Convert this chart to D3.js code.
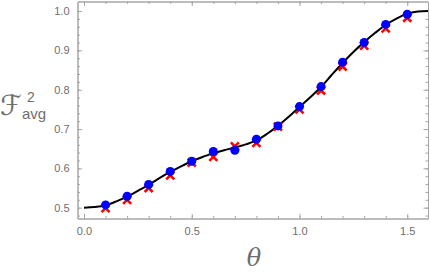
<!DOCTYPE html>
<html>
<head>
<meta charset="utf-8">
<script src="https://cdn.jsdelivr.net/npm/d3@7"></script>
<style>
  body { margin: 0; background: #fff; }
  svg { display: block; font-family: "Liberation Sans", Arial, sans-serif; }
</style>
</head>
<body>
<div id="chart"></div>
<script>
// curve samples
const curveTheta = [0, 0.05, 0.1, 0.15, 0.2, 0.25, 0.3, 0.35, 0.4, 0.45, 0.5, 0.55, 0.6, 0.65, 0.7, 0.75, 0.8, 0.85, 0.9, 0.95, 1.0, 1.05, 1.1, 1.15, 1.2, 1.25, 1.3, 1.35, 1.4, 1.45, 1.5, 1.55, 1.6];
const curveValue = [0.5, 0.5015, 0.506, 0.516, 0.528, 0.543, 0.558, 0.575, 0.591, 0.605, 0.618, 0.629, 0.638, 0.646, 0.653, 0.661, 0.671, 0.688, 0.708, 0.731, 0.756, 0.781, 0.807, 0.838, 0.868, 0.896, 0.921, 0.944, 0.965, 0.981, 0.993, 0.999, 1.0];

// sampled points
const pointTheta = [0.1, 0.2, 0.3, 0.4, 0.5, 0.6, 0.7, 0.8, 0.9, 1.0, 1.1, 1.2, 1.3, 1.4, 1.5];
const blueValue = [0.507, 0.529, 0.559, 0.592, 0.618, 0.643, 0.646, 0.674, 0.708, 0.757, 0.808, 0.870, 0.920, 0.966, 0.992];
const redValue = [0.499, 0.520, 0.550, 0.582, 0.615, 0.629, 0.656, 0.665, 0.706, 0.750, 0.798, 0.859, 0.912, 0.956, 0.983];

const xMajor = [0, 0.5, 1.0, 1.5];
const yMajor = [0.5, 0.6, 0.7, 0.8, 0.9, 1.0];

const W = 430, H = 273;
const frame = { left: 77.5, right: 428, top: 1.5, bottom: 218.5 };

const svg = d3.select("#chart").append("svg")
  .attr("width", W).attr("height", H);

const x = d3.scaleLinear().domain([-0.0302, 1.5963]).range([frame.left, frame.right]);
const y = d3.scaleLinear().domain([0.4725, 1.0243]).range([frame.bottom, frame.top]);

const frameColor = "#a6a6a6";
const labelColor = "#6e6e6e";

svg.append("defs").append("clipPath").attr("id", "clip")
  .append("rect")
  .attr("x", frame.left).attr("y", frame.top)
  .attr("width", frame.right - frame.left).attr("height", frame.bottom - frame.top);

// frame axes, ticks pointing inward
const xMinor = d3.range(0, 16).map((i) => i / 10);
const yMinor = d3.range(0, 27).map((i) => 0.48 + i * 0.02).filter((v) => v < 1.024);

function axisStyle(g) {
  g.select(".domain").attr("stroke", frameColor);
  g.selectAll(".tick line").attr("stroke", frameColor);
  g.selectAll(".tick text").attr("fill", labelColor).style("font-size", "11px");
}

// minor ticks
svg.append("g").attr("transform", `translate(0,${frame.bottom})`)
  .call(d3.axisBottom(x).tickValues(xMinor).tickSize(-2.5).tickSizeOuter(0).tickFormat(""))
  .call(axisStyle);
svg.append("g").attr("transform", `translate(0,${frame.top})`)
  .call(d3.axisTop(x).tickValues(xMinor).tickSize(-2.5).tickSizeOuter(0).tickFormat(""))
  .call(axisStyle);
svg.append("g").attr("transform", `translate(${frame.left},0)`)
  .call(d3.axisLeft(y).tickValues(yMinor).tickSize(-2.5).tickSizeOuter(0).tickFormat(""))
  .call(axisStyle);
svg.append("g").attr("transform", `translate(${frame.right},0)`)
  .call(d3.axisRight(y).tickValues(yMinor).tickSize(-2.5).tickSizeOuter(0).tickFormat(""))
  .call(axisStyle);

// major ticks + labels
svg.append("g").attr("transform", `translate(0,${frame.bottom})`)
  .call(d3.axisBottom(x).tickValues(xMajor).tickSize(-4.5).tickSizeOuter(0)
    .tickPadding(9).tickFormat(d3.format(".1f")))
  .call(axisStyle);
svg.append("g").attr("transform", `translate(0,${frame.top})`)
  .call(d3.axisTop(x).tickValues(xMajor).tickSize(-4.5).tickSizeOuter(0).tickFormat(""))
  .call(axisStyle);
svg.append("g").attr("transform", `translate(${frame.left},0)`)
  .call(d3.axisLeft(y).tickValues(yMajor).tickSize(-4.5).tickSizeOuter(0)
    .tickPadding(8).tickFormat(d3.format(".1f")))
  .call(axisStyle);
svg.append("g").attr("transform", `translate(${frame.right},0)`)
  .call(d3.axisRight(y).tickValues(yMajor).tickSize(-4.5).tickSizeOuter(0).tickFormat(""))
  .call(axisStyle);

// curve
const curveData = curveTheta.map((t, i) => ({ t, v: curveValue[i] }));
const line = d3.line()
  .x((d) => x(d.t))
  .y((d) => y(d.v))
  .curve(d3.curveMonotoneX);

const plot = svg.append("g").attr("clip-path", "url(#clip)");
plot.append("path")
  .datum(curveData)
  .attr("d", line)
  .attr("fill", "none")
  .attr("stroke", "#000")
  .attr("stroke-width", 2);

// red crosses
const cs = 4;
plot.selectAll(".red")
  .data(pointTheta.map((t, i) => ({ t, v: redValue[i] })))
  .enter().append("path")
  .attr("class", "red")
  .attr("d", (d) => {
    const cx = x(d.t), cy = y(d.v);
    return `M${cx - cs},${cy - cs}L${cx + cs},${cy + cs}M${cx - cs},${cy + cs}L${cx + cs},${cy - cs}`;
  })
  .attr("stroke", "#ff0000")
  .attr("stroke-width", 2.6)
  .attr("fill", "none");

// blue dots
plot.selectAll(".blue")
  .data(pointTheta.map((t, i) => ({ t, v: blueValue[i] })))
  .enter().append("circle")
  .attr("class", "blue")
  .attr("cx", (d) => x(d.t))
  .attr("cy", (d) => y(d.v))
  .attr("r", 4.5)
  .attr("fill", "#0000ff");

// axis labels
svg.append("text")
  .attr("x", 254).attr("y", 266)
  .attr("text-anchor", "middle")
  .attr("fill", labelColor)
  .style("font-family", "'DejaVu Serif', serif")
  .style("font-style", "italic")
  .style("font-size", "24px")
  .text("θ");

svg.append("text")
  .attr("x", 0).attr("y", 115)
  .attr("fill", labelColor)
  .style("font-family", "'DejaVu Sans', 'Noto Sans', sans-serif")
  .style("font-size", "28px")
  .text("ℱ");
svg.append("text")
  .attr("x", 27).attr("y", 102)
  .attr("fill", labelColor)
  .style("font-size", "14px")
  .text("2");
svg.append("text")
  .attr("x", 22).attr("y", 119)
  .attr("fill", labelColor)
  .style("font-size", "15px")
  .text("avg");
</script>
</body>
</html>
